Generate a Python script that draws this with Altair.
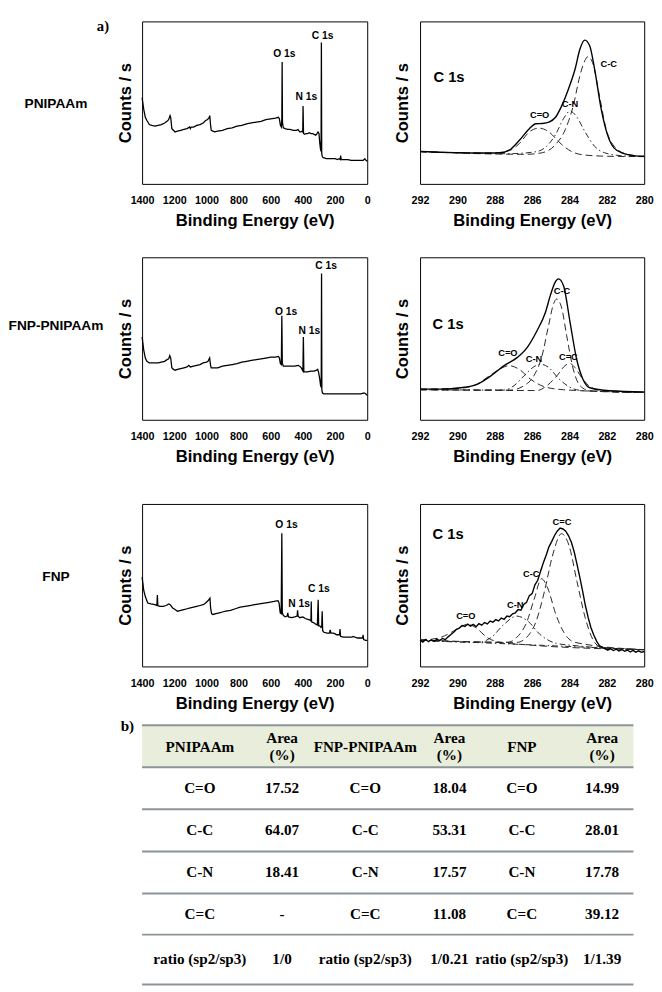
import altair as alt
import pandas as pd

# ---------------- survey spectra: (binding energy eV, counts in % of frame) ----------------
SURVEY_PNIPAAM = [(1400,53),(1390,46),(1380,41),(1370,39),(1355,36.5),(1340,36),(1320,35.5),(1300,36),(1280,36.5),
    (1260,37.5),(1245,38.5),(1235,39.5),(1226,42),(1222,41),(1215,34),(1205,33),(1195,32),(1180,32.5),(1160,33),
    (1140,33.5),(1120,34),(1105,35),(1100,34),(1095,35),(1080,35),(1060,36),(1040,36.5),(1020,37.5),(1005,39),
    (995,39.5),(985,40.5),(979,42),(975,37),(970,33),(960,32.5),(950,32),(930,32.5),(900,33),(870,34),(840,34.5),
    (810,35.5),(780,36),(750,37),(720,37.5),(690,38),(660,38.5),(630,39.5),(600,40),(570,40.5),(552,41),(546,40),
    (540,36),(534,35),(531,40),(529,75),(527,38),(522,34.5),(510,34),(495,33.5),(480,33.5),(460,33),(440,33),
    (430,33.5),(420,32),(412,32),(405,32.5),(401,32),(399,48),(396,31),(390,30.5),(380,31),(370,31),(360,31.5),
    (350,31),(340,31),(330,30.5),(320,30),(312,31),(306,32),(300,31),(295,25),(290,21),(287,20),(285,87),(283,19),
    (280,17),(277,16.5),(272,16),(265,16),(255,15.5),(240,15.5),(220,15.5),(200,15.5),(185,15),(175,15.5),(168,15),
    (165,17.5),(162,15),(140,15),(120,15),(100,14.5),(80,14.5),(60,14.5),(40,14.5),(25,14.5),(15,15.5),(8,14.5),(0,14)]

SURVEY_FNP_PNIPAAM = [(1400,51),(1390,43),(1380,38),(1370,36),(1355,35),(1330,35),(1300,35),(1280,35.5),(1260,36),
    (1245,37),(1235,37.5),(1228,39.5),(1222,38),(1215,32),(1205,31),(1195,30.5),(1180,31),(1160,31.5),(1140,32),
    (1120,32.5),(1110,33.5),(1100,32.5),(1080,33),(1060,33.5),(1040,34),(1020,35),(1000,35.5),(990,36),(980,38),
    (975,34),(970,32),(950,32),(930,32),(900,33),(870,33.5),(840,34),(810,34.5),(780,35.5),(750,36),(720,36.5),
    (690,37),(660,37.5),(630,38),(600,38.5),(570,38.5),(552,39),(546,38),(540,34.5),(534,34),(531,64),(528,35),
    (522,33),(510,33),(490,33),(470,33),(450,33),(430,33.5),(420,33),(410,32),(403,30.5),(400,30),(397,51),
    (394,29.5),(385,29.5),(370,29.5),(350,30),(330,30),(315,30.5),(308,31),(302,29),(295,25),(290,21),(286,20),
    (284,90),(282,18),(278,16.5),(270,16),(250,16),(220,16),(190,16),(160,16),(130,16),(100,16),(70,16),(40,16),
    (20,16.5),(10,16),(0,15)]

SURVEY_FNP = [(1400,55),(1390,47),(1380,43),(1365,39),(1345,38.5),(1320,38),(1308,37.5),(1305,44),(1302,37.5),
    (1290,37),(1270,37),(1250,37.5),(1235,38.5),(1225,38),(1210,36),(1195,35),(1180,34),(1160,34.5),(1140,35),
    (1120,35.5),(1100,36),(1080,36.5),(1060,37),(1040,37.5),(1020,38),(1005,39),(995,40),(985,41),(978,42),
    (974,36),(968,32.5),(960,32),(940,32.5),(920,33),(900,33.5),(880,34),(850,34.5),(820,35.5),(790,36.5),
    (760,37),(730,37.5),(700,38),(670,38.5),(640,39),(610,39.5),(580,40),(555,40.5),(548,39),(541,33),(535,32.5),
    (531,82),(528,33),(522,31.5),(510,30.5),(498,31),(494,33),(490,30.5),(470,30),(450,30.5),(436,31),(433,34.5),
    (430,31),(420,30),(400,30.5),(385,29.5),(370,29),(355,28.5),(350,28),(348,40),(346,27.5),(335,27),(320,26),
    (310,25.5),(305,41),(302,25),(295,25),(287,24),(283,24.5),(280,34),(277,22),(270,21),(250,20.5),(235,20.5),
    (230,22.5),(226,20.5),(210,20.5),(200,20),(190,19.5),(172,19.5),(169,23),(166,18.5),(150,18),(120,18),(95,18),
    (88,18.5),(60,17.5),(40,17.5),(28,17.5),(26,19.5),(22,16.5),(10,16),(0,16)]

SURVEY_PEAKS_1 = [(515,80,"O 1s"),(378,53.5,"N 1s"),(277,91,"C 1s")]
SURVEY_PEAKS_2 = [(505,66.5,"O 1s"),(360,54.6,"N 1s"),(256,94.6,"C 1s")]
SURVEY_PEAKS_3 = [(502,87,"O 1s"),(423,38.6,"N 1s"),(301,47.8,"C 1s")]

SURVEY_TICKS = [1400, 1200, 1000, 800, 600, 400, 200, 0]
C1S_TICKS = [292, 290, 288, 286, 284, 282, 280]
SAMPLES = ["PNIPAAm", "FNP-PNIPAAm", "FNP"]
PANEL_TAGS = ["a)", "b)"]

# ---------------- C 1s high-resolution spectra ----------------
ENV_1 = [(292.0,20),(291.56,19.8),(290.69,19.4),(289.82,19.2),(288.94,19),(288.24,19),(287.72,19.2),(287.2,21),
    (286.67,27),(286.15,34),(285.8,37),(285.45,37.2),(285.1,38),(284.75,41),(284.4,48.5),(284.05,58.6),(283.7,70.7),
    (283.44,83),(283.18,88.5),(282.92,85),(282.66,71),(282.31,46.5),(281.96,30),(281.61,22),(281.08,18.6),
    (280.56,17.4),(280.0,17)]
COMP_1 = {
    "C=O": [(292,19.8),(288.1,19),(287.2,20.6),(286.67,25),(286.15,32),(285.63,34.3),(285.1,32),(284.58,26),
            (284.05,21),(283.35,18),(281.96,17),(280,16.8)],
    "C-N": [(292,19.8),(287.2,18.6),(285.8,19.8),(285.28,22.6),(284.75,30.3),(284.31,40.4),(283.97,44.8),
            (283.62,41.4),(283.18,32.3),(282.66,23.2),(282.13,19.2),(281.26,17.4),(280,16.8)],
    "C-C": [(292,19.8),(286.32,18.2),(285.45,19.2),(284.75,24.2),(284.23,33.3),(283.79,48.5),(283.44,66.7),
            (283.18,75.8),(283.0,78.4),(282.74,73.7),(282.4,54.5),(282.05,34.3),(281.61,23.2),(280.91,18.2),(280,16.8)],
}
LABELS_1 = [(285.6,42.4,"C=O"),(283.97,48.9,"C-N"),(281.9,73.7,"C-C")]
C1S_POS_1 = (290.45, 65.7)

ENV_2 = [(292.0,18.9),(290.68,18.9),(289.62,20),(288.91,22),(288.21,27),(287.5,33.3),(286.79,38.4),(286.26,44.6),
    (285.74,54.8),(285.29,66),(285.03,76.4),(284.77,84.6),(284.59,86.7),(284.32,82.5),(283.97,60),(283.62,37.4),
    (283.27,24.6),(282.91,19.7),(281.85,17.9),(280.0,17.2)]
COMP_2 = {
    "C=O": [(292,18.9),(289.62,19.7),(288.91,22.2),(288.21,27.7),(287.68,31.6),(287.24,33.3),(286.71,31.2),
            (286.09,25),(285.38,20.5),(284.32,18.5),(280,16.8)],
    "C-N": [(292,18.5),(287.5,18.3),(286.97,21),(286.44,27),(285.91,32.6),(285.56,34.3),(285.12,32.2),
            (284.59,25.5),(283.97,20),(283.27,17.9),(280,16.8)],
    "C-C": [(292,18.5),(287.15,18.3),(286.44,21),(285.91,27),(285.47,39.4),(285.12,58),(284.85,71.5),
            (284.68,74.3),(284.41,68.4),(284.15,51.7),(283.8,31.2),(283.44,21),(282.91,17.9),(280,16.8)],
    "C=C": [(292,18.5),(285.74,18),(285.21,21),(284.68,27),(284.24,33.3),(284.0,34.7),(283.71,32.2),
            (283.35,26),(282.91,20.5),(282.21,17.7),(280,16.8)],
}
LABELS_2 = [(287.3,40.9,"C=O"),(285.9,37.4,"C-N"),(284.06,38.4,"C=C"),(284.4,79.5,"C-C")]
C1S_POS_2 = (290.5, 59)

ENV_3 = [(292.0,16.2),(291.85,15.0),(291.7,16.6),(291.55,15.2),(291.4,16.4),(291.25,15.4),(291.1,16.8),
    (290.95,15.9),(290.8,17.2),(290.65,16.5),(290.5,18.2),(290.35,19.6),(290.2,21.0),(290.05,22.8),(289.9,23.6),
    (289.75,25.2),(289.6,24.6),(289.45,26.0),(289.3,24.8),(289.15,25.9),(289.0,24.5),(288.85,26.3),(288.7,25.4),
    (288.55,27.0),(288.4,26.2),(288.25,27.9),(288.1,27.2),(287.95,28.8),(287.8,28.0),(287.65,29.8),(287.5,29.0),
    (287.35,31.0),(287.2,30.6),(287.05,32.4),(286.9,33.0),(286.75,35.0),(286.6,34.6),(286.45,38.2),(286.3,39.4),
    (286.15,43.6),(286.0,44.8),(285.85,50.2),(285.7,53.0),(285.55,58.6),(285.4,63.8),(285.25,68.4),(285.1,73.6),
    (284.95,77.0),(284.8,80.6),(284.65,83.4),(284.5,85.2),(284.35,84.6),(284.2,83.2),(284.05,80.4),(283.9,76.4),
    (283.75,70.6),(283.6,63.0),(283.45,55.0),(283.3,46.5),(283.15,37.5),(283.0,30.0),(282.85,23.8),(282.7,19.4),
    (282.55,15.6),(282.4,12.8),(282.25,11.6),(282.1,11.0),(281.95,10.0),(281.8,10.9),(281.65,9.8),(281.5,10.6),
    (281.35,9.5),(281.2,10.4),(281.05,9.3),(280.9,10.1),(280.75,8.9),(280.6,9.9),(280.45,8.8),(280.3,9.6),
    (280.15,8.7),(280.0,9.2)]
COMP_3 = {
    "base": [(292,16.2),(280,10.3)],
    "C=O": [(292,16.2),(291.04,17.4),(290.34,20.9),(289.81,24.5),(289.46,26),(289.02,23.9),(288.41,17.8),
            (287.71,14.8),(286.5,13.5),(280,10.3)],
    "C-N": [(292,16.2),(288.9,14.8),(288.2,17.8),(287.5,26),(286.83,31),(286.2,27.6),(285.6,19.9),(284.7,14.2),
            (283.7,12.8),(280,10.3)],
    "C-C": [(292,16.2),(287.36,14.8),(286.83,17.8),(286.3,27),(285.87,42.2),(285.5,54),(285.17,48.3),(284.73,32),
            (284.3,20.9),(283.7,14.8),(280,10.3)],
    "C=C": [(292,16.2),(286.83,14.8),(286.3,17.8),(285.78,28),(285.34,46.2),(284.9,68.6),(284.43,81.7),
            (284.03,74.6),(283.6,52.3),(283.16,30),(282.71,15.8),(282.28,11.8),(280,10.3)],
}
LABELS_3 = [(289.55,31,"C=O"),(286.9,37.7,"C-N"),(286.05,56.8,"C-C"),(284.4,88.8,"C=C")]
C1S_POS_3 = (290.5, 81.7)

DASHES_1 = {"C=O": [7, 4], "C-N": [6, 3, 1.5, 3], "C-C": [7, 4]}
DASHES_2 = {"C=O": [7, 4], "C-N": [6, 3, 1.5, 3], "C-C": [6, 2, 1.5, 2, 1.5, 2], "C=C": [6, 3, 1.5, 3]}
DASHES_3 = {"base": [6, 3, 1.5, 3], "C=O": [6, 2, 1.5, 2, 1.5, 2], "C-N": [7, 4], "C-C": [7, 4], "C=C": [1.5, 2]}

# ---------------- table ----------------
TABLE_HEADER = ["PNIPAAm", "Area\n(%)", "FNP-PNIPAAm", "Area\n(%)", "FNP", "Area\n(%)"]
TABLE_ROWS = [
    ["C=O", "17.52", "C=O", "18.04", "C=O", "14.99"],
    ["C-C", "64.07", "C-C", "53.31", "C-C", "28.01"],
    ["C-N", "18.41", "C-N", "17.57", "C-N", "17.78"],
    ["C=C", "-", "C=C", "11.08", "C=C", "39.12"],
    ["ratio (sp2/sp3)", "1/0", "ratio (sp2/sp3)", "1/0.21", "ratio (sp2/sp3)", "1/1.39"],
]

SANS = "Liberation Sans"
SERIF = "Liberation Serif"
PANEL_VIEW = alt.ViewBackground(stroke="black", strokeWidth=1)


def x_axis(values):
    return alt.Axis(values=values, format="d", title="Binding Energy (eV)", labelFlush=False,
                    labelOverlap=False, labelPadding=11, titlePadding=8)


def survey_panel(pairs, peaks, label, label_y, tag=None):
    df = pd.DataFrame(pairs, columns=["eV", "I"])
    x = alt.X("eV:Q", scale=alt.Scale(domain=[1400, 0], nice=False, zero=False), axis=x_axis(SURVEY_TICKS))
    y = alt.Y("I:Q", scale=alt.Scale(domain=[0, 100], nice=False, zero=False),
              axis=alt.Axis(title="Counts / s", labels=False, ticks=False, titlePadding=8))
    line = alt.Chart(df).mark_line(color="black", strokeWidth=1.3).encode(x=x, y=y)
    pk = pd.DataFrame(peaks, columns=["eV", "I", "t"])
    txt = alt.Chart(pk).mark_text(font=SANS, fontSize=10.5, fontWeight="bold", color="black").encode(
        x=x, y=y, text="t:N")
    rl = alt.Chart(pd.DataFrame({"t": [label]})).mark_text(
        font=SANS, fontSize=14, fontWeight="bold", color="black").encode(
        x=alt.value(-88), y=alt.value(label_y), text="t:N")
    layers = [line, txt, rl]
    if tag:
        layers.append(alt.Chart(pd.DataFrame({"t": [tag]})).mark_text(
            font=SERIF, fontSize=15, fontWeight="bold", color="black").encode(
            x=alt.value(-40), y=alt.value(5), text="t:N"))
    return alt.layer(*layers).properties(width=230, height=166, view=PANEL_VIEW)


def c1s_panel(env, comps, dashes, labels, c1s_pos, env_interp):
    frames = []
    for name, pts in comps.items():
        d = pd.DataFrame(pts, columns=["eV", "I"])
        d["curve"] = name
        frames.append(d)
    comp_df = pd.concat(frames, ignore_index=True)
    env_df = pd.DataFrame(env, columns=["eV", "I"])
    x = alt.X("eV:Q", scale=alt.Scale(domain=[292, 280], nice=False, zero=False), axis=x_axis(C1S_TICKS))
    y = alt.Y("I:Q", scale=alt.Scale(domain=[0, 100], nice=False, zero=False),
              axis=alt.Axis(title="Counts / s", labels=False, ticks=False, titlePadding=9))
    comp = alt.Chart(comp_df).mark_line(color="#262626", strokeWidth=1, interpolate="monotone").encode(
        x=x, y=y, detail="curve:N",
        strokeDash=alt.StrokeDash("curve:N", scale=alt.Scale(domain=list(dashes.keys()),
                                                             range=list(dashes.values())), legend=None))
    envl = alt.Chart(env_df).mark_line(color="black", strokeWidth=1.4, interpolate=env_interp).encode(x=x, y=y)
    lab_df = pd.DataFrame(labels, columns=["eV", "I", "t"])
    lab = alt.Chart(lab_df).mark_text(font=SANS, fontSize=9.5, fontWeight="bold", color="black").encode(
        x=x, y=y, text="t:N")
    c1 = pd.DataFrame([(c1s_pos[0], c1s_pos[1], "C 1s")], columns=["eV", "I", "t"])
    c1t = alt.Chart(c1).mark_text(font=SANS, fontSize=15, fontWeight="bold", color="black").encode(
        x=x, y=y, text="t:N")
    return alt.layer(comp, envl, lab, c1t).properties(width=229, height=166, view=PANEL_VIEW)


def table_chart():
    recs = []
    for j, t in enumerate(TABLE_HEADER):
        recs.append({"col": j, "pos": 0.31 if "\n" in t else 0.53, "t": t})
    for i, row in enumerate(TABLE_ROWS):
        for j, t in enumerate(row):
            recs.append({"col": j, "pos": i + 1.5, "t": t})
    df = pd.DataFrame(recs)
    xs = alt.Scale(domain=[0, 1, 2, 3, 4, 5], range=[59, 143, 228, 314, 388, 470], nice=False, zero=False)
    ys = alt.Scale(domain=[0, 1, 2, 3, 4, 5, 6], range=[0, 43, 86, 129, 172, 214, 265], nice=False, zero=False)
    head = alt.Chart(pd.DataFrame({"r": [0], "r2": [1]})).mark_rect(color="#e8eedb").encode(
        y=alt.Y("r:Q", scale=ys, axis=None), y2="r2:Q")
    rules = alt.Chart(pd.DataFrame({"r": [0, 1, 2, 3, 4, 5, 6]})).mark_rule(color="#8d9498", strokeWidth=2).encode(
        y=alt.Y("r:Q", scale=ys, axis=None))
    txt = alt.Chart(df).mark_text(font=SERIF, fontSize=15.5, fontWeight="bold", color="black",
                                  lineBreak="\n", lineHeight=17).encode(
        x=alt.X("col:Q", scale=xs, axis=None), y=alt.Y("pos:Q", scale=ys, axis=None), text="t:N")
    b = alt.Chart(pd.DataFrame({"t": [PANEL_TAGS[1]]})).mark_text(font=SERIF, fontSize=15.5, fontWeight="bold",
                                                                   color="black").encode(
        x=alt.value(-15), y=alt.value(1), text="t:N")
    return alt.layer(head, rules, txt, b).properties(width=502, height=265,
                                                     view=alt.ViewBackground(strokeWidth=0))


row1 = alt.hconcat(survey_panel(SURVEY_PNIPAAM, SURVEY_PEAKS_1, SAMPLES[0], 84, PANEL_TAGS[0]),
                   c1s_panel(ENV_1, COMP_1, DASHES_1, LABELS_1, C1S_POS_1, "monotone"), spacing=22)
row2 = alt.hconcat(survey_panel(SURVEY_FNP_PNIPAAM, SURVEY_PEAKS_2, SAMPLES[1], 70),
                   c1s_panel(ENV_2, COMP_2, DASHES_2, LABELS_2, C1S_POS_2, "monotone"), spacing=22)
row3 = alt.hconcat(survey_panel(SURVEY_FNP, SURVEY_PEAKS_3, SAMPLES[2], 75),
                   c1s_panel(ENV_3, COMP_3, DASHES_3, LABELS_3, C1S_POS_3, "linear"), spacing=22)

chart = alt.vconcat(
    alt.vconcat(row1, row2, spacing=27),
    alt.vconcat(row3, table_chart(), spacing=7),
    spacing=38,
).properties(padding=0).configure(font=SANS).configure_view(strokeWidth=0).configure_axis(
    labelFont=SANS, labelFontSize=11, labelFontWeight="bold", labelColor="black",
    titleFont=SANS, titleFontSize=17, titleFontWeight="bold", titleColor="black",
    grid=False, domain=False, ticks=False,
)

chart.save("out.html", embed_options={"renderer": "svg", "actions": False})
